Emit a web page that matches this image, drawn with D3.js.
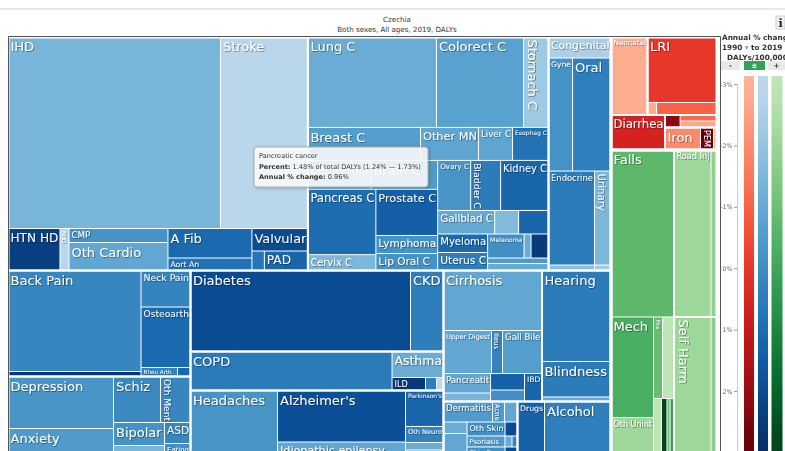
<!DOCTYPE html>
<html>
<head>
<meta charset="utf-8">
<script src="https://cdn.jsdelivr.net/npm/d3@7"></script>
<style>
  body { margin: 0; background: #fff; overflow: hidden; }
  svg { display: block; font-family: "DejaVu Sans", Verdana, sans-serif; }
</style>
</head>
<body>
<svg id="chart" width="785" height="451"></svg>
<script>
// Czechia, both sexes, all ages, 2019, DALYs
// dalys = % of total DALYs, change = annual % change 1990-2019 (rate)
// slots = where the cause sits in the slice/dice tiling (structure only)

// --- non-communicable (blue) ---
let cvdCauses = ["IHD", "Stroke", "HTN HD", "RHD", "CMP", "Oth Cardio", "A Fib", "Aort An", "Valvular", "Endocar", "PAD"]
let cvdDalys  = [13.565, 5.585, 0.728, 0.126, 0.462, 0.924, 0.826, 0.35, 0.42, 0.081, 0.283]
let cvdChange = [-1.4, -2.9, 2.4, -2.9, -0.2, -0.9, 1.1, 0.8, 2.0, 0.7, 1.2]
let cvdSlots  = ["N/T/cvd/t", "N/T/cvd/t", "N/T/cvd/b", "N/T/cvd/b", "N/T/cvd/b/cm", "N/T/cvd/b/cm",
                 "N/T/cvd/b/af", "N/T/cvd/b/af", "N/T/cvd/b/va", "N/T/cvd/b/va/p", "N/T/cvd/b/va/p"]

let neoCauses = ["Lung C", "Colorect C", "Stomach C", "Breast C", "Other MN", "Liver C", "Esophag C",
                 "Leukemia", "Brain C", "Pancreas C", "Cervix C", "Prostate C", "Lymphoma", "Lip Oral C",
                 "Ovary C", "Bladder C", "Kidney C", "Gallblad C", "Thyroid C", "Larynx C",
                 "Myeloma", "Uterus C", "Melanoma", "Mesothel", "Testic C", "NM Skin C", "Oth Neo"]
let neoDalys  = [3.876, 2.625, 0.754, 1.238, 0.638, 0.374, 0.396, 0.609, 0.643, 1.48, 0.36, 0.951, 0.372, 0.351,
                 0.55, 0.5, 0.8, 0.447, 0.188, 0.235, 0.308, 0.3, 0.292, 0.056, 0.14, 0.112, 0.142]
let neoChange = [-1.1, -0.7, -2.2, -0.6, -0.85, -0.85, 0.8, -0.9, -0.5, 0.96, -1.5, 1.4, -0.2, -0.2,
                 -0.25, 0.5, 1.2, -1.0, -1.6, 1.2, 1.1, 0.45, -0.1, -1.1, 2.5, -0.5, -1.0]
let neoSlots  = ["N/T/neo/t", "N/T/neo/t", "N/T/neo/t", "N/T/neo/b", "N/T/neo/b", "N/T/neo/b", "N/T/neo/b",
                 "N/T/neo/r/l/k", "N/T/neo/r/l/k", "N/T/neo/r/l/p/a", "N/T/neo/r/l/p/a",
                 "N/T/neo/r/l/p/b", "N/T/neo/r/l/p/b", "N/T/neo/r/l/p/b",
                 "N/T/neo/r/r/1", "N/T/neo/r/r/1", "N/T/neo/r/r/1", "N/T/neo/r/r/2", "N/T/neo/r/r/2", "N/T/neo/r/r/2",
                 "N/T/neo/r/r/3/m", "N/T/neo/r/r/3/m", "N/T/neo/r/r/3/n/t", "N/T/neo/r/r/3/n/t", "N/T/neo/r/r/3/n/t",
                 "N/T/neo/r/r/3/n", "N/T/neo/r/r/3/n"]

let othCauses = ["Congenital", "Gyne", "Oral", "Endocrine", "Urinary", "Hemog", "Oth NCD"]
let othDalys  = [0.438, 0.904, 1.45, 1.441, 0.517, 0.084, 0.03]
let othChange = [-2.5, -0.2, 0.4, 0.5, -1.5, -1.8, -2.3]
let othSlots  = ["N/T/oth", "N/T/oth/g", "N/T/oth/g", "N/T/oth/e", "N/T/oth/e", "N/T/oth/s", "N/T/oth/s"]

let mskCauses = ["Back Pain", "Oth MSK", "Neck Pain", "Osteoarth", "Rheu Arth", "Gout"]
let mskDalys  = [4.478, 0.222, 0.602, 0.998, 0.11, 0.039]
let mskChange = [0.2, 2.6, 0.3, 1.1, 0.3, 1.2]
let mskSlots  = ["N/B/a/m/b", "N/B/a/m/b", "N/B/a/m/n", "N/B/a/m/n", "N/B/a/m/n/r", "N/B/a/m/n/r"]

let menCauses = ["Depression", "Anxiety", "Schiz", "Oth Ment", "Bipolar", "Conduct", "ASD", "Eating"]
let menDalys  = [1.829, 1.108, 0.721, 0.46, 0.391, 0.247, 0.182, 0.143]
let menChange = [-0.3, -0.5, 0.1, 0.2, -0.2, -1.4, 0.2, -0.1]
let menSlots  = ["N/B/a/h/d", "N/B/a/h/d", "N/B/a/h/s/x", "N/B/a/h/s/x",
                 "N/B/a/h/s/y/b", "N/B/a/h/s/y/b", "N/B/a/h/s/y/a", "N/B/a/h/s/y/a"]

let dkdCauses = ["Diabetes", "CKD"]
let dkdDalys  = [5.94, 0.891]
let dkdChange = [2.0, 0.45]
let dkdSlots  = ["N/B/b/d", "N/B/b/d"]

let crdCauses = ["COPD", "Asthma", "ILD", "Pneumocon", "Oth Resp"]
let crdDalys  = [2.62, 0.446, 0.145, 0.048, 0.03]
let crdChange = [0.55, -1.1, 2.6, 0.45, -3]
let crdSlots  = ["N/B/b/r", "N/B/b/r/a", "N/B/b/r/a/i", "N/B/b/r/a/i", "N/B/b/r/a/i"]

let neuCauses = ["Headaches", "Alzheimer's", "Idiopathic epilepsy", "Parkinson's", "Oth Neuro", "MS", "MND"]
let neuDalys  = [2.016, 2.197, 0.768, 0.456, 0.203, 0.095, 0.127]
let neuChange = [-0.25, 1.9, -0.9, 1.2, 0.3, -1.1, -0.9]
let neuSlots  = ["N/B/b/n", "N/B/b/n/a", "N/B/b/n/a", "N/B/b/n/p", "N/B/b/n/p", "N/B/b/n/p", "N/B/b/n/p"]

let digCauses = ["Cirrhosis", "Upper Digest", "Ileus", "Gall Bile", "Pancreatit", "Vasc Intest", "Appendicit", "Hernia", "IBD"]
let digDalys  = [1.97, 0.688, 0.158, 0.566, 0.306, 0.133, 0.187, 0.13, 0.163]
let digChange = [-0.9, -0.9, 0.3, -0.6, -0.9, -1.4, 1.3, -0.1, 1.2]
let digSlots  = ["N/B/c/t/d", "N/B/c/t/d/m", "N/B/c/t/d/m", "N/B/c/t/d/m", "N/B/c/t/d/b/p", "N/B/c/t/d/b/p",
                 "N/B/c/t/d/b/q", "N/B/c/t/d/b/q", "N/B/c/t/d/b"]

let senCauses = ["Hearing", "Blindness", "Oth Sense"]
let senDalys  = [2.093, 0.817, 0.104]
let senChange = [0.5, 0.5, -0.9]
let senSlots  = ["N/B/c/t/s", "N/B/c/t/s", "N/B/c/t/s"]

let skiCauses = ["Dermatitis", "Acne", "Pruritus", "Decubitus", "Urticaria", "Oth Skin", "Viral Skin",
                 "Psoriasis", "Bact Skin", "Scabies", "Skin Fung", "Alopecia"]
let skiDalys  = [0.335, 0.082, 0.089, 0.09, 0.208, 0.177, 0.058, 0.139, 0.026, 0.02, 0.165, 0.054]
let skiChange = [-0.5, -0.5, -0.9, -1.1, -0.9, -0.1, 2.0, -0.5, -1.1, 0.3, -0.1, 2.0]
let skiSlots  = ["N/B/c/b/k/t", "N/B/c/b/k/t", "N/B/c/b/k/t", "N/B/c/b/k/b/l", "N/B/c/b/k/b/l",
                 "N/B/c/b/k/b/r/o", "N/B/c/b/k/b/r/o", "N/B/c/b/k/b/r/p", "N/B/c/b/k/b/r/p", "N/B/c/b/k/b/r/p",
                 "N/B/c/b/k/b/r/f", "N/B/c/b/k/b/r/f"]

let subCauses = ["Drugs", "Alcohol"]
let subDalys  = [0.527, 1.297]
let subChange = [1.3, 0.4]
let subSlots  = ["N/B/c/b", "N/B/c/b"]

// --- communicable, maternal, neonatal, nutritional (red) ---
let matCauses = ["Neonatal"]
let matDalys  = [0.949]
let matChange = [-2.8]
let matSlots  = ["R/a"]

let riCauses = ["LRI", "URI", "Otitis"]
let riDalys  = [1.517, 0.038, 0.252]
let riChange = [0.0, -2.8, -1.0]
let riSlots  = ["R/a/l", "R/a/l/s", "R/a/l/s"]

let entCauses = ["Diarrhea"]
let entDalys  = [0.63]
let entChange = [0.6]
let entSlots  = ["R/b"]

let infCauses = ["Oth Infect", "Meningitis", "Hepatitis"]
let infDalys  = [0.063, 0.074, 0.08]
let infChange = [2.2, -1.2, -2.7]
let infSlots  = ["R/b/r/s", "R/b/r/s/v", "R/b/r/s/v"]

let nutCauses = ["Iron", "PEM", "Oth Nutr"]
let nutDalys  = [0.266, 0.098, 0.026]
let nutChange = [-1.96, 2.85, -3]
let nutSlots  = ["R/b/r/n", "R/b/r/n", "R/b/r/n"]

// --- injuries (green) ---
let uniCauses = ["Falls", "Mech", "Oth Unint", "Fire", "Drowning", "Poisoning", "Foreign Body", "Heat", "Animal"]
let uniDalys  = [3.507, 1.424, 0.602, 0.245, 0.312, 0.164, 0.113, 0.062, 0.082]
let uniChange = [-0.7, -0.3, -2.1, -0.9, -2.9, -2.9, 2.85, -1.0, 0.2]
let uniSlots  = ["R/i/u", "R/i/u/b/l", "R/i/u/b/l", "R/i/u/b/r/t", "R/i/u/b/r/t",
                 "R/i/u/b/r/b", "R/i/u/b/r/b", "R/i/u/b/r/b", "R/i/u/b/r/b"]

let traCauses = ["Road Inj", "Oth Transport"]
let traDalys  = [2.06, 0.334]
let traChange = [-2.1, -1.8]
let traSlots  = ["R/i/x/t", "R/i/x/t"]

let shvCauses = ["Self Harm", "Violence"]
let shvDalys  = [1.764, 0.286]
let shvChange = [-2.1, -1.7]
let shvSlots  = ["R/i/x/s", "R/i/x/s"]

let groups = [
  ["Cardiovascular", "ncd", cvdCauses, cvdDalys, cvdChange, cvdSlots],
  ["Neoplasms", "ncd", neoCauses, neoDalys, neoChange, neoSlots],
  ["Other NCD", "ncd", othCauses, othDalys, othChange, othSlots],
  ["Musculoskeletal", "ncd", mskCauses, mskDalys, mskChange, mskSlots],
  ["Mental", "ncd", menCauses, menDalys, menChange, menSlots],
  ["Diabetes & CKD", "ncd", dkdCauses, dkdDalys, dkdChange, dkdSlots],
  ["Chronic respiratory", "ncd", crdCauses, crdDalys, crdChange, crdSlots],
  ["Neurological", "ncd", neuCauses, neuDalys, neuChange, neuSlots],
  ["Digestive", "ncd", digCauses, digDalys, digChange, digSlots],
  ["Sense organ", "ncd", senCauses, senDalys, senChange, senSlots],
  ["Skin", "ncd", skiCauses, skiDalys, skiChange, skiSlots],
  ["Substance use", "ncd", subCauses, subDalys, subChange, subSlots],
  ["Maternal & neonatal", "comm", matCauses, matDalys, matChange, matSlots],
  ["Respiratory infections", "comm", riCauses, riDalys, riChange, riSlots],
  ["Enteric", "comm", entCauses, entDalys, entChange, entSlots],
  ["Other infectious", "comm", infCauses, infDalys, infChange, infSlots],
  ["Nutritional", "comm", nutCauses, nutDalys, nutChange, nutSlots],
  ["Unintentional", "inj", uniCauses, uniDalys, uniChange, uniSlots],
  ["Transport", "inj", traCauses, traDalys, traChange, traSlots],
  ["Self-harm & violence", "inj", shvCauses, shvDalys, shvChange, shvSlots]
]

// hovered cause shown in the tooltip
let tipCause = "Pancreatic cancer"
let tipPct = 1.48, tipLo = 1.24, tipHi = 1.73, tipChg = 0.96

let legendTicks = [-3, -2, -1, 0, 1, 2]

// labels the site leaves off / draws sideways
let hidden = new Set(["Endocar", "Thyroid C", "Larynx C", "Mesothel", "Testic C", "NM Skin C", "Oth Neo",
  "Hemog", "Oth NCD", "Oth MSK", "Gout", "Conduct", "Pneumocon", "Oth Resp", "MS", "MND", "Vasc Intest",
  "Appendicit", "Hernia", "Oth Sense", "Pruritus", "Decubitus", "Urticaria", "Viral Skin", "Bact Skin",
  "Scabies", "Alopecia", "Otitis", "Oth Infect", "Meningitis", "Hepatitis", "Oth Nutr", "Drowning",
  "Poisoning", "Foreign Body", "Heat", "Animal", "Oth Transport", "Violence", "URI"])
let rotated = new Set(["Stomach C", "Bladder C", "Urinary", "Oth Ment", "Ileus", "Acne", "PEM", "RHD", "Self Harm", "Fire"])

let width = 709
let height = 423

let svg = d3.select("#chart")
let defs = svg.append("defs")
defs.append("filter").attr("id", "ts")
    .attr("x", "-20%").attr("y", "-30%").attr("width", "140%").attr("height", "160%")
    .append("feDropShadow")
    .attr("dx", 0.8).attr("dy", 0.8).attr("stdDeviation", 0.5)
    .attr("flood-color", "#000").attr("flood-opacity", 0.45)
defs.append("filter").attr("id", "tipShadow")
    .append("feDropShadow")
    .attr("dx", 1).attr("dy", 1).attr("stdDeviation", 1.5)
    .attr("flood-color", "#000").attr("flood-opacity", 0.25)

// colours: same ramp for the cells and the legend bars
let ramps = { ncd: d3.interpolateBlues, comm: d3.interpolateReds, inj: d3.interpolateGreens }
let tOf = d3.scaleLinear().domain([-3, 2.84]).range([0.27, 1]).clamp(true)
let colorOf = (level, chg) => ramps[level](tOf(chg))

// build the nested tree from the arrays
let rootData = { key: "root", children: [] }
let child = (node, key) => {
  let c = node.children.find(d => d.key === key)
  if (!c) { c = { key: key, children: [] }; node.children.push(c) }
  return c
}
groups.forEach(([name, level, causes, dalys, change, slots]) => {
  causes.forEach((cause, i) => {
    let node = rootData
    slots[i].split("/").forEach(k => node = child(node, k))
    node.children.push({ name: cause, value: dalys[i], change: change[i], group: name, level: level })
  })
})

let root = d3.hierarchy(rootData).sum(d => d.value || 0)
d3.treemap().tile(d3.treemapSliceDice).size([width, height])(root)
let leaves = root.leaves()

// header
svg.append("rect").attr("x", 0).attr("y", 8).attr("width", 785).attr("height", 2).attr("fill", "#e6e6e6")
svg.append("text").attr("x", 397).attr("y", 22).attr("text-anchor", "middle")
   .attr("font-size", 7.1).attr("fill", "#333").text("Czechia")
svg.append("text").attr("x", 397).attr("y", 31.5).attr("text-anchor", "middle")
   .attr("font-size", 7.1).attr("fill", "#333").text("Both sexes, All ages, 2019, DALYs")
svg.append("rect").attr("x", 776).attr("y", 16).attr("width", 9).attr("height", 13)
   .attr("fill", "#f2f2f2").attr("stroke", "#ccc")
svg.append("text").attr("x", 780.5).attr("y", 27).attr("text-anchor", "middle")
   .attr("font-size", 11).attr("font-weight", "bold").attr("font-family", "DejaVu Serif").attr("fill", "#222").text("i")

let tm = svg.append("g").attr("transform", "translate(8,37)")

tm.selectAll("rect.cell")
  .data(leaves)
  .join("rect")
  .attr("class", "cell")
  .attr("x", d => d.x0 + 0.5)
  .attr("y", d => d.y0 + 0.5)
  .attr("width", d => Math.max(0, d.x1 - d.x0 - 1))
  .attr("height", d => Math.max(0, d.y1 - d.y0 - 1))
  .attr("fill", d => colorOf(d.data.level, d.data.change))

// thicker white borders round cause groups and the three big branches
let bbox = v => [d3.min(v, d => d.x0), d3.min(v, d => d.y0), d3.max(v, d => d.x1), d3.max(v, d => d.y1)]
let drawBoxes = (boxes, sw) => {
  tm.append("g").selectAll("rect")
    .data(boxes)
    .join("rect")
    .attr("x", d => d[1][0]).attr("y", d => d[1][1])
    .attr("width", d => d[1][2] - d[1][0]).attr("height", d => d[1][3] - d[1][1])
    .attr("fill", "none").attr("stroke", "#fff").attr("stroke-width", sw)
}
drawBoxes(d3.rollups(leaves, bbox, d => d.data.group), 2)
drawBoxes(d3.rollups(leaves, bbox, d => d.data.level), 3)

// labels
let meas = svg.append("text").attr("font-size", 10).attr("visibility", "hidden")
leaves.forEach(d => {
  meas.text(d.data.name)
  d.em = meas.node().getComputedTextLength() / 10
})
meas.remove()

let labels = tm.append("g").attr("fill", "#fff").attr("filter", "url(#ts)")
leaves.forEach(d => {
  let name = d.data.name
  if (hidden.has(name)) return
  let w = d.x1 - d.x0, h = d.y1 - d.y0
  let vert = rotated.has(name)
  let s = vert ? Math.min(13, (h - 4) / d.em, 0.62 * w)
               : Math.min(13, (w - 4) / d.em, 0.62 * h)
  if (s < 4.5) return
  let t = labels.append("text").attr("font-size", s.toFixed(2)).text(name)
  if (vert) {
    t.attr("transform", "translate(" + (d.x0 + 1 + 0.27 * s) + "," + (d.y0 + 2.5) + ") rotate(90)")
  } else {
    t.attr("x", d.x0 + 2.5).attr("y", d.y0 + 1.5 + 0.97 * s)
  }
})

// frame
svg.append("path").attr("d", "M8.5,451V36.5H720.5V451")
   .attr("fill", "none").attr("stroke", "#555").attr("stroke-width", 1)

// tooltip over the pancreatic cancer cell
let tip = svg.append("g").attr("transform", "translate(254,147)")
tip.append("rect").attr("width", 174).attr("height", 40).attr("rx", 3)
   .attr("fill", "#fff").attr("fill-opacity", 0.86).attr("stroke", "#aaa").attr("filter", "url(#tipShadow)")
let tipText = tip.append("g").attr("font-size", 6.6).attr("fill", "#333")
tipText.append("text").attr("x", 5).attr("y", 11).text(tipCause)
let l2 = tipText.append("text").attr("x", 5).attr("y", 21.5)
l2.append("tspan").attr("font-weight", "bold").text("Percent:")
l2.append("tspan").text(" " + tipPct.toFixed(2) + "% of total DALYs (" + tipLo.toFixed(2) + "% \u2014 " + tipHi.toFixed(2) + "%)")
let l3 = tipText.append("text").attr("x", 5).attr("y", 32)
l3.append("tspan").attr("font-weight", "bold").text("Annual % change:")
l3.append("tspan").text(" " + tipChg.toFixed(2) + "%")

// legend
let lg = svg.append("g")
let ttl = lg.append("g").attr("font-size", 7.3).attr("font-weight", "bold").attr("fill", "#333")
ttl.append("text").attr("x", 722).attr("y", 40).text("Annual % change")
let yr = ttl.append("text").attr("x", 722).attr("y", 50)
yr.append("tspan").text("1990 ")
yr.append("tspan").attr("fill", "#999").attr("font-weight", "normal").text("\u25BE")
yr.append("tspan").text(" to 2019")
ttl.append("text").attr("x", 727).attr("y", 59.5).text("DALYs/100,000")

let buttons = [["-", 721, 19, "#e9e9e9", "#333"], ["\u00B1", 744, 21, "#31a354", "#fff"], ["+", 768, 17, "#e9e9e9", "#333"]]
buttons.forEach(([txt, x, w, bg, fg]) => {
  lg.append("rect").attr("x", x).attr("y", 61).attr("width", w).attr("height", 9).attr("fill", bg)
  lg.append("text").attr("x", x + w / 2).attr("y", 68.3).attr("text-anchor", "middle")
    .attr("font-size", 7).attr("font-weight", "bold").attr("fill", fg).text(txt)
})

let legendY = d3.scaleLinear().domain([-3, 3]).range([84, 84 + 6 * 61.4])
let barTop = 76, barBottom = 451
let bars = [["comm", 744, 10], ["ncd", 758, 10], ["inj", 771.5, 11]]
bars.forEach(([level, x, w]) => {
  let grad = defs.append("linearGradient").attr("id", "g-" + level)
    .attr("gradientUnits", "userSpaceOnUse").attr("x1", 0).attr("x2", 0).attr("y1", barTop).attr("y2", barBottom)
  d3.range(21).forEach(i => {
    let y = barTop + (barBottom - barTop) * i / 20
    grad.append("stop").attr("offset", i / 20).attr("stop-color", colorOf(level, legendY.invert(y)))
  })
  lg.append("rect").attr("x", x).attr("y", barTop).attr("width", w).attr("height", barBottom - barTop)
    .attr("fill", "url(#g-" + level + ")")
})

let axis = lg.append("g").attr("transform", "translate(737,0)")
  .call(d3.axisLeft(legendY).tickValues(legendTicks).tickFormat(d => d + "%").tickSize(3).tickPadding(1.5).tickSizeOuter(0))
axis.select(".domain").attr("stroke", "#ccc")
axis.selectAll(".tick line").attr("stroke", "#999")
axis.selectAll(".tick text").attr("fill", "#666").attr("font-size", 6.3).attr("font-family", "DejaVu Sans")
</script>
</body>
</html>
